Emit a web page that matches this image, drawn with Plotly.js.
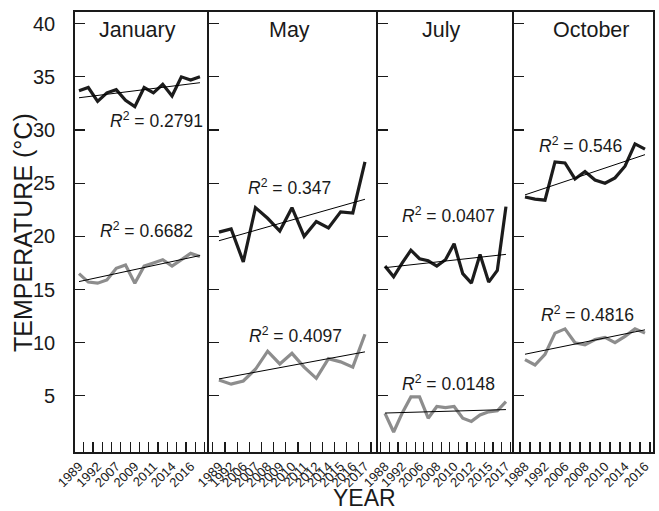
<!DOCTYPE html>
<html>
<head>
<meta charset="utf-8">
<script src="https://cdn.plot.ly/plotly-3.0.1.min.js"></script>
<style>html,body{margin:0;padding:0;background:#fff;}#chart{width:659px;height:511px;}</style>
</head>
<body>
<div id="chart"></div>
<script>
// ---- data ----
const panelNames = ['January', 'May', 'July', 'October'];

const janYears = ['1989','1990','1992','2006','2007','2008','2009','2010','2011','2012','2014','2015','2016','2017'];
const mayYears = ['1989','1992','2006','2007','2008','2009','2010','2011','2012','2014','2015','2016','2017'];
const julYears = ['1988','1989','1992','1993','2006','2007','2008','2009','2010','2011','2012','2014','2015','2016','2017'];
const octYears = ['1988','1989','1992','2005','2006','2007','2008','2009','2010','2012','2014','2015','2016'];

const janShown = ['1989','1992','2007','2009','2011','2014','2016'];
const mayShown = ['1989','1992','2006','2007','2008','2009','2010','2011','2012','2014','2015','2016','2017'];
const julShown = ['1988','1992','2006','2008','2010','2012','2015','2017'];
const octShown = ['1988','1992','2006','2008','2010','2014','2016'];

// black (upper) series
const janUpper = [33.7, 34.0, 32.7, 33.5, 33.8, 32.8, 32.2, 34.0, 33.5, 34.3, 33.2, 35.0, 34.7, 35.0];
const mayUpper = [20.4, 20.7, 17.6, 22.7, 21.7, 20.5, 22.7, 20.0, 21.4, 20.8, 22.3, 22.2, 27.0];
const julUpper = [17.2, 16.2, 17.5, 18.7, 17.9, 17.7, 17.2, 17.8, 19.3, 16.5, 15.6, 18.3, 15.7, 16.8, 22.8];
const octUpper = [23.7, 23.5, 23.4, 27.0, 26.9, 25.4, 26.1, 25.3, 25.0, 25.5, 26.6, 28.7, 28.2];

// grey (lower) series
const janLower = [16.5, 15.7, 15.6, 15.9, 17.0, 17.3, 15.6, 17.2, 17.5, 17.8, 17.2, 17.8, 18.4, 18.1];
const mayLower = [6.5, 6.1, 6.4, 7.5, 9.2, 8.0, 9.0, 7.7, 6.65, 8.5, 8.2, 7.7, 10.8];
const julLower = [3.35, 1.6, 3.4, 4.9, 4.9, 2.9, 4.0, 3.9, 4.0, 2.9, 2.6, 3.2, 3.5, 3.6, 4.45];
const octLower = [8.4, 7.9, 8.9, 10.9, 11.3, 10.0, 9.8, 10.3, 10.5, 10.0, 10.6, 11.3, 10.9];

const upperR2 = ['0.2791', '0.347', '0.0407', '0.546'];
const lowerR2 = ['0.6682', '0.4097', '0.0148', '0.4816'];

const yTicks = [5, 10, 15, 20, 25, 30, 35, 40];

// ---- build ----
const years = [janYears, mayYears, julYears, octYears];
const shown = [janShown, mayShown, julShown, octShown];
const uppers = [janUpper, mayUpper, julUpper, octUpper];
const lowers = [janLower, mayLower, julLower, octLower];

const FONT = 'Liberation Sans, Arial, sans-serif';
const BLACK = '#1c1c1c';
const GREY = '#8d8d8d';
const INK = '#1a1a1a';

function fit(vals) {
  const n = vals.length;
  let sx = 0, sy = 0, sxx = 0, sxy = 0;
  vals.forEach((v, i) => { sx += i; sy += v; sxx += i * i; sxy += i * v; });
  const b = (n * sxy - sx * sy) / (n * sxx - sx * sx);
  const a = (sy - b * sx) / n;
  return [a, a + b * (n - 1)];
}

const domains = [[0, 0.2318], [0.2318, 0.5242], [0.5242, 0.7595], [0.7595, 1]];
const xRanges = [[-0.43, 13.97], [-0.82, 13.07], [-0.81, 14.93], [-1.1, 12.8]];
const yRange = [-0.28, 41.1];

const traces = [];
const layout = {
  width: 659, height: 511,
  margin: {l: 75, r: 6, t: 12, b: 59},
  paper_bgcolor: '#fff', plot_bgcolor: '#fff',
  showlegend: false,
  font: {family: FONT, color: INK},
  annotations: []
};

const titlePos = [0.463, 0.479, 0.463, 0.554];
const upPos = [[0.605, 30.95], [0.479, 24.6], [0.515, 22.0], [0.482, 28.6]];
const loPos = [[0.537, 20.6], [0.509, 10.7], [0.522, 6.2], [0.532, 12.7]];

for (let p = 0; p < 4; p++) {
  const sfx = p === 0 ? '' : String(p + 1);
  const xa = 'x' + sfx, ya = 'y' + sfx;
  const yrs = years[p];
  traces.push({x: yrs, y: uppers[p], xaxis: xa, yaxis: ya, mode: 'lines', line: {color: BLACK, width: 3.2}, hoverinfo: 'skip'});
  traces.push({x: yrs, y: lowers[p], xaxis: xa, yaxis: ya, mode: 'lines', line: {color: GREY, width: 3.2}, hoverinfo: 'skip'});
  const fu = fit(uppers[p]), fl = fit(lowers[p]);
  traces.push({x: [yrs[0], yrs[yrs.length - 1]], y: fu, xaxis: xa, yaxis: ya, mode: 'lines', line: {color: '#000', width: 1}, hoverinfo: 'skip'});
  traces.push({x: [yrs[0], yrs[yrs.length - 1]], y: fl, xaxis: xa, yaxis: ya, mode: 'lines', line: {color: '#000', width: 1}, hoverinfo: 'skip'});

  layout['xaxis' + sfx] = {
    type: 'category', domain: domains[p], anchor: ya, range: xRanges[p],
    tickmode: 'array', tickvals: yrs, ticktext: yrs.map(y => shown[p].includes(y) ? y : ''),
    tickson: 'boundaries', ticks: 'inside', ticklen: 10, tickwidth: 1.2, tickcolor: INK,
    tickangle: -45, tickfont: {family: FONT, size: 13, color: INK},
    showline: true, linecolor: INK, linewidth: 1.8, mirror: true,
    showgrid: false, zeroline: false, fixedrange: true
  };
  layout['yaxis' + sfx] = {
    anchor: xa, range: yRange, tickmode: 'array', tickvals: yTicks,
    ticks: 'inside', ticklen: 10, tickwidth: 1.2, tickcolor: INK,
    showticklabels: p === 0,
    tickfont: {family: FONT, size: 20, color: INK},
    ticklabelstandoff: 14,
    showline: true, linecolor: INK, linewidth: 1.8, mirror: p === 3,
    showgrid: false, zeroline: false, fixedrange: true
  };

  layout.annotations.push({
    text: panelNames[p], xref: xa + ' domain', yref: ya, x: titlePos[p], y: 39.4,
    showarrow: false, font: {family: FONT, size: 21.5, color: INK}
  });
  layout.annotations.push({
    text: '<i>R</i><sup>2</sup> = ' + upperR2[p], xref: xa + ' domain', yref: ya, x: upPos[p][0], y: upPos[p][1],
    showarrow: false, font: {family: FONT, size: 17.5, color: INK}
  });
  layout.annotations.push({
    text: '<i>R</i><sup>2</sup> = ' + lowerR2[p], xref: xa + ' domain', yref: ya, x: loPos[p][0], y: loPos[p][1],
    showarrow: false, font: {family: FONT, size: 17.5, color: INK}
  });
}

layout.annotations.push({
  text: 'TEMPERATURE (°C)', xref: 'paper', yref: 'paper', x: -0.09, y: 0.5, xanchor: 'center', yanchor: 'middle',
  textangle: -90, showarrow: false, font: {family: FONT, size: 25, color: INK}
});
layout.annotations.push({
  text: 'YEAR', xref: 'paper', yref: 'paper', x: 0.5, y: -0.104, yanchor: 'middle',
  showarrow: false, font: {family: FONT, size: 23, color: INK}
});

Plotly.newPlot('chart', traces, layout, {staticPlot: true, displayModeBar: false});
</script>
</body>
</html>
